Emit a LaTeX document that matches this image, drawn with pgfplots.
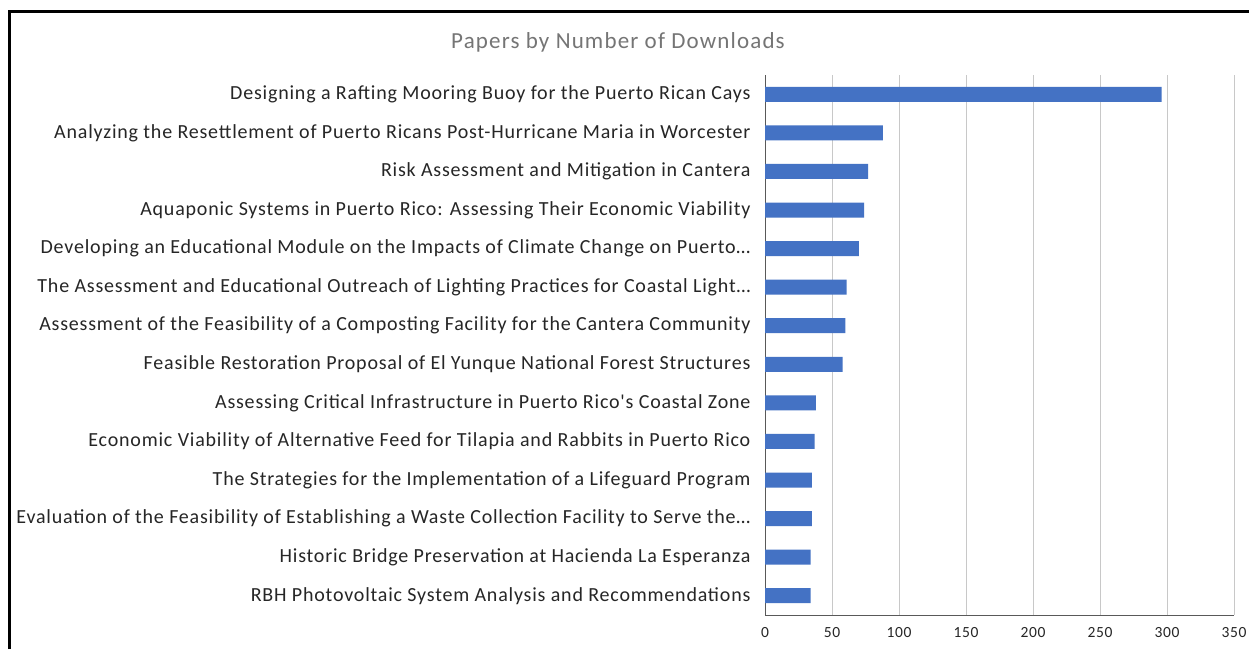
\documentclass[border=0pt]{standalone}
\usepackage{fontspec}
\setmainfont{Carlito}
\newfontfamily\labfont[LetterSpace=4]{Carlito}
\newfontfamily\titfont[LetterSpace=5]{Carlito}
\usepackage{pgfplots}
\pgfplotsset{compat=1.18}
\definecolor{barblue}{HTML}{4472C4}
\definecolor{gridgray}{HTML}{C8C8C8}
\definecolor{titlegray}{HTML}{757575}
\definecolor{labelblack}{HTML}{262626}
\definecolor{axisgray}{HTML}{595959}
\begin{document}
\begin{tikzpicture}
\useasboundingbox (0pt,0pt) rectangle (1249pt,649pt);
\fill[white] (0pt,0pt) rectangle (1249pt,649pt);
\draw[line width=3pt] (9.5pt,0pt) -- (9.5pt,637pt) -- (1249pt,637pt);
\node[text=titlegray, font=\titfont\fontsize{23}{27}\selectfont] at (618pt,607pt) {Papers by Number of Downloads};
\begin{axis}[
  at={(765pt,34pt)}, anchor=south west,
  scale only axis, width=469pt, height=540pt,
  xmin=0, xmax=350, xtick={0,50,...,350},
  ymin=-0.5, ymax=13.5, y dir=reverse,
  ytick={0,...,13},
  yticklabels={
    {Designing a Rafting Mooring Buoy for the Puerto Rican Cays},
    {Analyzing the Resettlement of Puerto Ricans Post-Hurricane Maria in Worcester},
    {Risk Assessment and Mitigation in Cantera},
    {Aquaponic Systems in Puerto Rico: Assessing Their Economic Viability},
    {Developing an Educational Module on the Impacts of Climate Change on Puerto…},
    {The Assessment and Educational Outreach of Lighting Practices for Coastal Light…},
    {Assessment of the Feasibility of a Composting Facility for the Cantera Community},
    {Feasible Restoration Proposal of El Yunque National Forest Structures},
    {Assessing Critical Infrastructure in Puerto Rico's Coastal Zone},
    {Economic Viability of Alternative Feed for Tilapia and Rabbits in Puerto Rico},
    {The Strategies for the Implementation of a Lifeguard Program},
    {Evaluation of the Feasibility of Establishing a Waste Collection Facility to Serve the…},
    {Historic Bridge Preservation at Hacienda La Esperanza},
    {RBH Photovoltaic System Analysis and Recommendations}},
  axis x line*=bottom, axis y line*=left,
  axis line style={axisgray, line width=1pt},
  x axis line style={-}, y axis line style={-},
  xmajorgrids, grid style={gridgray, line width=1pt},
  major tick length=0pt,
  /pgf/number format/assume math mode=true,
  xticklabel style={font=\labfont\fontsize{15.5}{18}\selectfont, text=labelblack, yshift=-9pt},
  yticklabel style={font=\labfont\fontsize{20}{23}\selectfont, text=labelblack, xshift=-11pt},
]
\addplot[xbar, fill=barblue, draw=none, bar width=15pt] coordinates {
  (296,0) (88,1) (77,2) (74,3) (70,4) (61,5) (60,6) (58,7)
  (38,8) (37,9) (35,10) (35,11) (34,12) (34,13)
};
\end{axis}
\end{tikzpicture}
\end{document}
